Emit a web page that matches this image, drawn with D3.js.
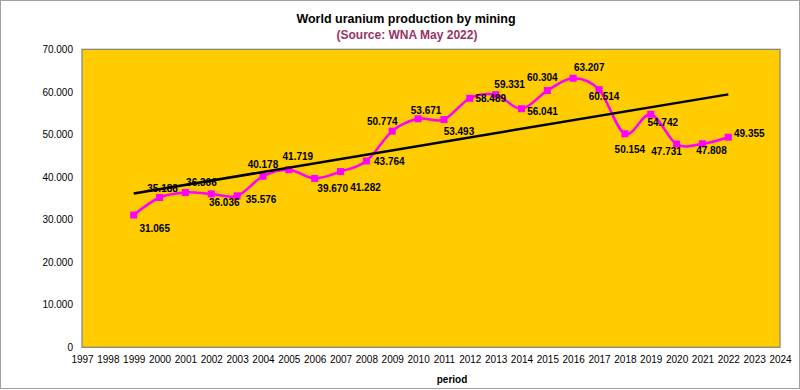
<!DOCTYPE html>
<html>
<head>
<meta charset="utf-8">
<script src="https://cdn.jsdelivr.net/npm/d3@7"></script>
<style>
  html, body { margin: 0; padding: 0; background: #fff; }
  svg { display: block; font-family: "Liberation Sans", Arial, sans-serif; }
</style>
</head>
<body>
<svg id="chart" width="800" height="390"></svg>
<script>
// ---- data ----
const years = [1999, 2000, 2001, 2002, 2003, 2004, 2005, 2006, 2007, 2008, 2009, 2010,
               2011, 2012, 2013, 2014, 2015, 2016, 2017, 2018, 2019, 2020, 2021, 2022];
const production = [31065, 35188, 36366, 36036, 35576, 40178, 41719, 39670, 41282, 43764, 50774, 53671,
                     53493, 58489, 59331, 56041, 60304, 63207, 60514, 50154, 54742, 47731, 47808, 49355];
const yTicks = [0, 10000, 20000, 30000, 40000, 50000, 60000, 70000];
const xTickYears = d3.range(1997, 2025);
const titleText = "World uranium production by mining";
const subtitleText = "(Source: WNA May 2022)";
const xAxisTitle = "period";

// label placement (pixel offsets of each value label from its point)
const labelOffsets = [
  [21, 13], [3, -9], [16, -10], [13, 9], [24, 4], [0, -12], [9, -13], [18, 10],
  [25, 16], [23, 1], [-10, -10], [8, -8], [15, 12], [21, 0], [14, -10], [21, 3],
  [-5, -13], [16, -11], [5, 7], [5, 16], [12, 8], [-10, 7], [9, 7], [21, -4]
];

// ---- layout ----
const svg = d3.select("#chart");
const W = 800, H = 390;
const plot = { left: 82, right: 780, top: 49.3, bottom: 347.3 };

const x = d3.scaleLinear().domain([1997, 2024]).range([plot.left, plot.right]);
const y = d3.scaleLinear().domain([0, 70000]).range([plot.bottom, plot.top]);

const fmt = v => v === 0 ? "0" : d3.format(",")(v).replace(/,/g, ".");

// outer border
svg.append("rect").attr("x", 0.5).attr("y", 0.5).attr("width", W - 1).attr("height", H - 2)
  .attr("fill", "#fff").attr("stroke", "#a0a0a0").attr("stroke-width", 1);

// plot area
svg.append("rect").attr("x", plot.left).attr("y", plot.top)
  .attr("width", plot.right - plot.left).attr("height", plot.bottom - plot.top)
  .attr("fill", "#FFCC00").attr("stroke", "#808080").attr("stroke-width", 1.2);

// titles
svg.append("text").attr("x", 406).attr("y", 23).attr("text-anchor", "middle")
  .attr("font-size", 12.5).attr("font-weight", "bold").attr("fill", "#000").text(titleText);
svg.append("text").attr("x", 407).attr("y", 39).attr("text-anchor", "middle")
  .attr("font-size", 12).attr("font-weight", "bold").attr("fill", "#993366").text(subtitleText);

// y axis
const yAxis = d3.axisLeft(y).tickValues(yTicks).tickFormat(fmt).tickSize(0).tickPadding(9);
const gy = svg.append("g").attr("transform", `translate(${plot.left},0)`).call(yAxis);
gy.select(".domain").remove();
gy.selectAll("text").attr("font-size", 10).attr("fill", "#000")
  .attr("font-family", "Liberation Sans, Arial, sans-serif");

// x axis
const xAxis = d3.axisBottom(x).tickValues(xTickYears).tickFormat(d3.format("d")).tickSize(0).tickPadding(9);
const gx = svg.append("g").attr("transform", `translate(0,${plot.bottom})`).call(xAxis);
gx.select(".domain").remove();
gx.selectAll("text").attr("font-size", 10).attr("fill", "#000")
  .attr("font-family", "Liberation Sans, Arial, sans-serif");

svg.append("text").attr("x", 452).attr("y", 383).attr("text-anchor", "middle")
  .attr("font-size", 10).attr("font-weight", "bold").attr("fill", "#000").text(xAxisTitle);

// data
const pts = years.map((yr, i) => ({ yr, v: production[i], i }));

// trend line (least squares)
const n = years.length;
const mx = d3.mean(years), my = d3.mean(production);
const slope = d3.sum(years, (yr, i) => (yr - mx) * (production[i] - my)) / d3.sum(years, yr => (yr - mx) ** 2);
const intercept = my - slope * mx;
const trend = [years[0], years[n - 1]].map(yr => ({ yr, v: intercept + slope * yr }));

// production smooth line
const line = d3.line().x(d => x(d.yr)).y(d => y(d.v)).curve(d3.curveCardinal.tension(0));
svg.append("path").datum(pts).attr("d", line).attr("fill", "none")
  .attr("stroke", "#FF00FF").attr("stroke-width", 2.5);

svg.selectAll("rect.mk").data(pts).enter().append("rect").attr("class", "mk")
  .attr("x", d => x(d.yr) - 3.5).attr("y", d => y(d.v) - 3.5)
  .attr("width", 7).attr("height", 7).attr("fill", "#FF00FF");

svg.append("path").datum(trend).attr("d", d3.line().x(d => x(d.yr)).y(d => y(d.v)))
  .attr("fill", "none").attr("stroke", "#000").attr("stroke-width", 2.5);

// labels
svg.selectAll("text.lbl").data(pts).enter().append("text").attr("class", "lbl")
  .attr("x", d => x(d.yr) + labelOffsets[d.i][0])
  .attr("y", d => y(d.v) + labelOffsets[d.i][1])
  .attr("dy", "0.35em").attr("text-anchor", "middle")
  .attr("font-size", 10).attr("font-weight", "bold").attr("fill", "#000")
  .text(d => fmt(d.v));
</script>
</body>
</html>
